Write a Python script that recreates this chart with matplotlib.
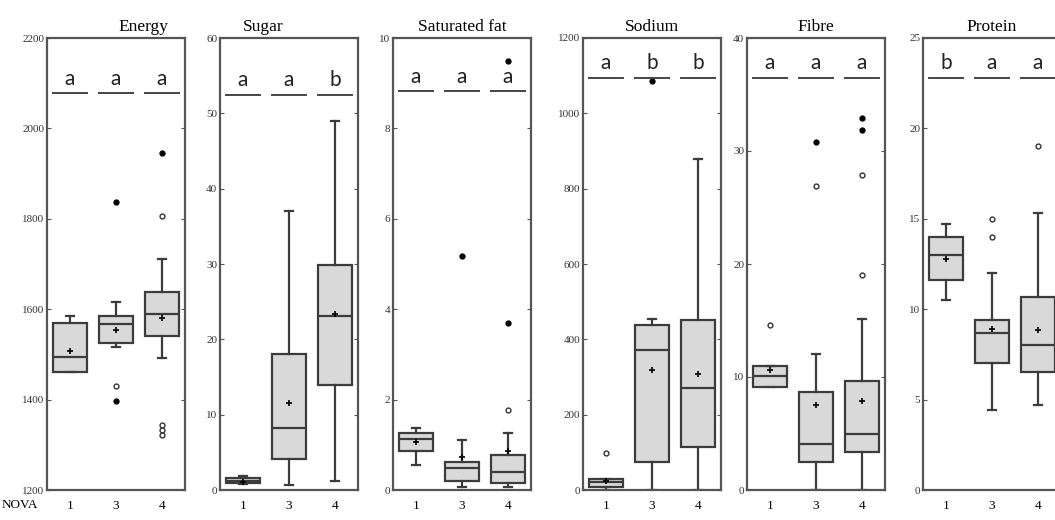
import matplotlib.pyplot as plt
import matplotlib.transforms as mtransforms
import numpy as np

plt.rcParams["font.family"] = ["Liberation Serif", "DejaVu Serif"]

# 패널 (영양소) 이름과 NOVA 그룹
panels = ["Energy", "Sugar", "Saturated fat", "Sodium", "Fibre", "Protein"]
nova = ["1", "3", "4"]

# 상자 그림 통계값 - 패널별로 NOVA 1, 3, 4
q1 = [[1460, 1526, 1541], [0.9, 4.1, 14.0], [0.87, 0.21, 0.16],
      [9, 74, 114], [9.1, 2.5, 3.4], [11.6, 7.0, 6.5]]
med = [[1495, 1567, 1590], [1.25, 8.2, 23.1], [1.13, 0.49, 0.39],
       [20, 371, 272], [10.1, 4.1, 5.0], [13.0, 8.7, 8.0]]
q3 = [[1569, 1584, 1637], [1.65, 18.1, 29.9], [1.27, 0.61, 0.78],
      [29, 439, 452], [11.0, 8.7, 9.65], [14.0, 9.4, 10.65]]
whislo = [[1460, 1516, 1493], [0.8, 0.65, 1.2], [0.56, 0.06, 0.07],
          [0, 0, 0], [9.1, 0, 0], [10.5, 4.45, 4.7]]
whishi = [[1584, 1615, 1711], [1.9, 37.0, 49.0], [1.38, 1.10, 1.27],
          [29, 453, 880], [11.0, 12.0, 15.1], [14.7, 12.0, 15.3]]
means = [[1508, 1554, 1580], [1.0, 11.5, 23.3], [1.07, 0.74, 0.86],
         [25, 318, 307], [10.6, 7.5, 7.9], [12.8, 8.9, 8.85]]

# 이상치: 빈 원 / 채운 원
open_fliers = [[[], [1429], [1807, 1344, 1333, 1322]],
               [[], [], []],
               [[], [], [1.76]],
               [[99], [], []],
               [[14.6], [26.9], [27.9, 19.0]],
               [[], [15.0, 14.0], [19.0]]]
filled_fliers = [[[], [1838, 1396], [1945]],
                 [[], [], []],
                 [[], [5.18], [3.7, 9.5]],
                 [[], [1085], []],
                 [[], [30.8], [32.9, 31.9]],
                 [[], [], []]]

# 유의성 문자
letters = [["a", "a", "a"], ["a", "a", "b"], ["a", "a", "a"],
           ["a", "b", "b"], ["a", "a", "a"], ["b", "a", "a"]]

# y 축 범위와 눈금 간격
ymins = [1200, 0, 0, 0, 0, 0]
ymaxs = [2200, 60, 10, 1200, 40, 25]
ysteps = [200, 10, 2, 200, 10, 5]

# 배치 (픽셀)
lefts = [47, 220, 393, 583, 747, 923]
title_x = [0.70, 0.31, 0.5, 0.5, 0.5, 0.5]
line_y = [0.878, 0.875, 0.882, 0.912, 0.912, 0.912]

W, H = 1055, 520
edge = "#3c3c3c"
fig = plt.figure(figsize=(W / 100, H / 100), dpi=100)

for i, name in enumerate(panels):
    ax = fig.add_axes([lefts[i] / W, 30 / H, 138 / W, 452 / H])
    stats = []
    for j in range(3):
        stats.append(dict(med=med[i][j], q1=q1[i][j], q3=q3[i][j],
                          whislo=whislo[i][j], whishi=whishi[i][j],
                          mean=means[i][j], fliers=open_fliers[i][j]))
    ax.bxp(stats, positions=[1, 2, 3], widths=0.76, capwidths=0.18,
           patch_artist=True, showmeans=True,
           boxprops=dict(facecolor="#d9d9d9", edgecolor=edge, linewidth=1.6),
           medianprops=dict(color=edge, linewidth=1.6),
           whiskerprops=dict(color=edge, linewidth=1.6),
           capprops=dict(color=edge, linewidth=1.6),
           meanprops=dict(marker="+", markeredgecolor="black", markersize=4, markeredgewidth=1.2),
           flierprops=dict(marker="o", markerfacecolor="white", markeredgecolor="#333333",
                           markersize=3.5, markeredgewidth=1.0))
    for j, vals in enumerate(filled_fliers[i]):
        ax.plot([j + 1] * len(vals), vals, "o", color="black", markersize=3.5, linestyle="none")

    ax.set_xlim(0.5, 3.5)
    ax.set_ylim(ymins[i], ymaxs[i])
    ax.set_yticks(np.arange(ymins[i], ymaxs[i] + ysteps[i] / 2, ysteps[i]))
    ax.tick_params(axis="y", direction="in", left=True, right=True, length=3,
                   labelsize=8, labelcolor="#333333", color="#555555", pad=2)
    ax.set_xticks([1, 2, 3])
    ax.set_xticklabels(nova, fontsize=9.5)
    ax.tick_params(axis="x", which="major", length=0, pad=7)
    ax.set_xticks([2], minor=True)
    ax.tick_params(axis="x", which="minor", direction="in", top=True, bottom=True,
                   length=5, width=1.2, color="#555555")
    for s in ax.spines.values():
        s.set_color("#555555")
        s.set_linewidth(1.6)

    ax.text(title_x[i], 1.006, name, transform=ax.transAxes, ha="center", va="bottom", fontsize=12.5)

    trans = mtransforms.blended_transform_factory(ax.transData, ax.transAxes)
    for j, let in enumerate(letters[i]):
        ax.plot([j + 1 - 0.37, j + 1 + 0.37], [line_y[i], line_y[i]], transform=trans,
                color="#444444", linewidth=1.4, clip_on=False)
        ax.text(j + 1, line_y[i] + 0.01, let, transform=trans, ha="center", va="bottom",
                fontsize=15, family=["Lato", "DejaVu Sans"], color="#222222")

fig.text(2 / W, 1 - 505 / H, "NOVA", va="center", ha="left", fontsize=9.5)

fig.savefig("out.png", dpi=100)
